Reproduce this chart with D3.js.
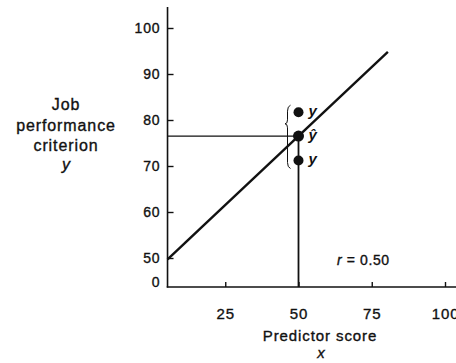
<!DOCTYPE html>
<html>
<head>
<meta charset="utf-8">
<script src="https://cdn.jsdelivr.net/npm/d3@7"></script>
<style>
  html, body { margin: 0; padding: 0; background: #fff; }
  svg { display: block; }
  text { font-family: "Liberation Sans", Arial, Helvetica, sans-serif; fill: #111; stroke: #111; stroke-width: 0.35px; }
</style>
</head>
<body>
<svg id="chart" width="456" height="363"></svg>
<script>
// Predictor (x) and criterion (y) tick values
const xTicks = [25, 50, 75, 100];
const yTicks = [50, 60, 70, 80, 90, 100];

// Regression of criterion on predictor
const slope = 0.6;
const intercept = 46.5;
const lineX = [5.3, 80.5];          // extent of the drawn regression line
const r = 0.50;

// The individual case at predictor score 50
const caseX = 50;
const actualY = [81.7, 71.2];       // two possible observed criterion scores
const predictedY = intercept + slope * caseX;

const svg = d3.select("#chart");
const ink = "#111";

// Both axes are broken: x starts a little above 0, y jumps from 0 to 50
const xMinShown = 5.3;
const x = d3.scaleLinear().domain([0, 100]).range([152, 445]);
const y = d3.scaleLinear().domain([50, 100]).range([258, 28]);
const baseY = 287;      // row where the criterion axis reads 0
const axisX = x(xMinShown);

// y axis line
svg.append("line")
  .attr("x1", axisX).attr("x2", axisX)
  .attr("y1", 7).attr("y2", baseY + 0.5)
  .attr("stroke", ink).attr("stroke-width", 1.6);

// x axis line
svg.append("line")
  .attr("x1", axisX - 0.8).attr("x2", 456)
  .attr("y1", baseY).attr("y2", baseY)
  .attr("stroke", ink).attr("stroke-width", 1.6);

// y ticks (pointing inward) and labels
const yAxis = d3.axisLeft(y).tickValues(yTicks).tickSizeInner(-6).tickSizeOuter(0).tickPadding(7);
const gy = svg.append("g").attr("transform", `translate(${axisX},0)`).call(yAxis);
gy.select(".domain").remove();
gy.selectAll(".tick line").attr("stroke", ink).attr("stroke-width", 1.4);
gy.selectAll(".tick text")
  .attr("font-size", 14).attr("letter-spacing", 0.9).attr("fill", ink)
  .attr("font-family", null);
gy.attr("font-family", null).attr("font-size", null);

// the "0" at the foot of the broken criterion axis
svg.append("text")
  .attr("x", axisX - 7).attr("y", baseY - 4).attr("dy", "0.32em")
  .attr("text-anchor", "end").attr("font-size", 14).attr("letter-spacing", 0.9)
  .text("0");

// x ticks (pointing up) and labels
const xAxis = d3.axisBottom(x).tickValues(xTicks).tickSizeInner(-5).tickSizeOuter(0).tickPadding(21);
const gx = svg.append("g").attr("transform", `translate(0,${baseY})`).call(xAxis);
gx.select(".domain").remove();
gx.selectAll(".tick line").attr("stroke", ink).attr("stroke-width", 1.4);
gx.selectAll(".tick text")
  .attr("font-size", 15).attr("letter-spacing", 0.9).attr("fill", ink)
  .attr("font-family", null);
gx.attr("font-family", null).attr("font-size", null);

// regression line
svg.append("line")
  .attr("x1", x(lineX[0])).attr("y1", y(intercept + slope * lineX[0]))
  .attr("x2", x(lineX[1])).attr("y2", y(intercept + slope * lineX[1]))
  .attr("stroke", ink).attr("stroke-width", 2.4);

// projection of the predicted score onto the criterion axis
svg.append("line")
  .attr("x1", axisX).attr("x2", x(caseX))
  .attr("y1", y(predictedY)).attr("y2", y(predictedY))
  .attr("stroke", ink).attr("stroke-width", 1.2);

// vertical from the predictor score up to the predicted score
svg.append("line")
  .attr("x1", x(caseX)).attr("x2", x(caseX))
  .attr("y1", y(predictedY)).attr("y2", baseY)
  .attr("stroke", ink).attr("stroke-width", 1.8);

// brace spanning the two observed scores
const bx = x(caseX) - 11;
const braceTop = y(actualY[0]) - 7, braceBot = y(actualY[1]) + 8;
const cusp = (braceTop + braceBot) / 2 - 13;
svg.append("path")
  .attr("d", `M${bx + 3},${braceTop} Q${bx},${braceTop + 1} ${bx},${braceTop + 6}
              L${bx},${cusp - 4} Q${bx},${cusp} ${bx - 2.5},${cusp}
              Q${bx},${cusp} ${bx},${cusp + 4}
              L${bx},${braceBot - 6} Q${bx},${braceBot - 1} ${bx + 3},${braceBot}`)
  .attr("fill", "none").attr("stroke", ink).attr("stroke-width", 1);

// points: the two observed scores and the predicted one
const pts = [
  { v: actualY[0], label: "y", r: 5 },
  { v: predictedY, label: "ŷ", r: 5.5 },
  { v: actualY[1], label: "y", r: 5 }
];
svg.selectAll("circle.pt").data(pts).join("circle")
  .attr("class", "pt")
  .attr("cx", x(caseX)).attr("cy", d => y(d.v)).attr("r", d => d.r)
  .attr("fill", ink);

svg.selectAll("text.pt").data(pts).join("text")
  .attr("class", "pt")
  .attr("x", x(caseX) + 10).attr("y", d => y(d.v) + 4)
  .attr("font-size", 15).attr("font-style", "italic").attr("font-weight", "bold")
  .style("stroke-width", "0px")
  .text(d => d.label);

// correlation note
svg.append("text")
  .attr("x", 337).attr("y", 265)
  .attr("font-size", 14).attr("letter-spacing", 0.6)
  .call(t => {
    t.append("tspan").attr("font-style", "italic").text("r");
    t.append("tspan").text(" = " + r.toFixed(2));
  });

// criterion axis title
const yTitle = ["Job", "performance", "criterion"];
svg.selectAll("text.ytitle").data(yTitle).join("text")
  .attr("class", "ytitle")
  .attr("x", 66).attr("y", (d, i) => 110 + i * 20.5)
  .attr("text-anchor", "middle").attr("font-size", 16).attr("letter-spacing", 0.9)
  .text(d => d);
svg.append("text")
  .attr("x", 66).attr("y", 170)
  .attr("text-anchor", "middle").attr("font-size", 16).attr("font-style", "italic")
  .text("y");

// predictor axis title
svg.append("text")
  .attr("x", 320).attr("y", 341)
  .attr("text-anchor", "middle").attr("font-size", 15).attr("letter-spacing", 0.9)
  .text("Predictor score");
svg.append("text")
  .attr("x", 321).attr("y", 358)
  .attr("text-anchor", "middle").attr("font-size", 15).attr("font-style", "italic")
  .text("x");
</script>
</body>
</html>
